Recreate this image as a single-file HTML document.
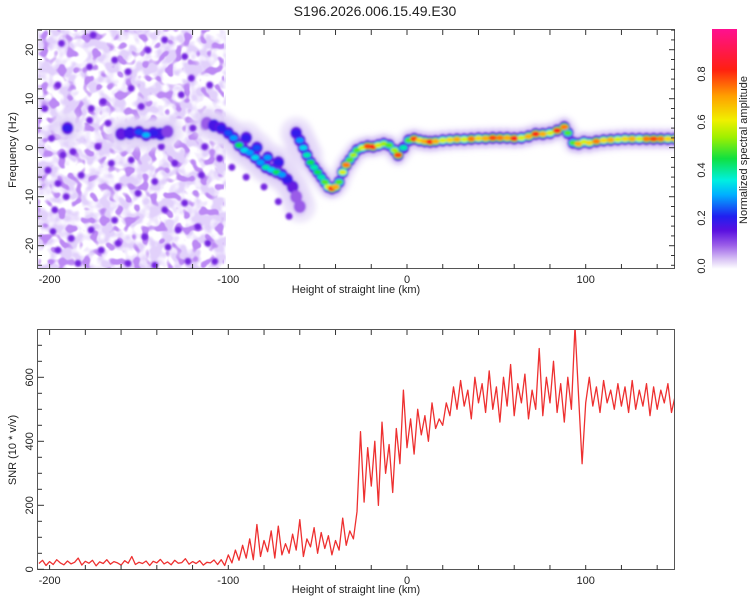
<!DOCTYPE html>
<html><head><meta charset="utf-8"><style>
html,body{margin:0;padding:0;background:#fff;}
svg{display:block;font-family:"Liberation Sans",sans-serif;}
</style></head><body>
<svg id="chart" width="750" height="600" viewBox="0 0 750 600" xmlns="http://www.w3.org/2000/svg">
<defs>
<filter id="tex" x="0" y="0" width="1" height="1">
<feTurbulence type="fractalNoise" baseFrequency="0.08" numOctaves="2" seed="7" result="n"/>
<feColorMatrix in="n" type="matrix" values="0 0 0 0 0.76  0 0 0 0 0.64  0 0 0 0 0.97  5 0 0 0 -2.0" result="c"/>
<feGaussianBlur in="c" stdDeviation="0.6"/>
</filter>
<filter id="tex2" x="0" y="0" width="1" height="1">
<feTurbulence type="fractalNoise" baseFrequency="0.12" numOctaves="1" seed="23" result="n"/>
<feColorMatrix in="n" type="matrix" values="0 0 0 0 0.5  0 0 0 0 0.25  0 0 0 0 0.9  9 0 0 0 -4.9" result="c"/>
<feGaussianBlur in="c" stdDeviation="0.6"/>
</filter>
<filter id="soft"><feGaussianBlur stdDeviation="1.1"/></filter>
<filter id="haze"><feGaussianBlur stdDeviation="3"/></filter>
<clipPath id="clipTop"><rect x="38" y="30" width="637" height="239"/></clipPath>
<clipPath id="clipBot"><rect x="38" y="330" width="637" height="240"/></clipPath>
<linearGradient id="cbar" x1="0" y1="1" x2="0" y2="0">
<stop offset="0" stop-color="#ffffff"/><stop offset="0.04" stop-color="#d9c4f5"/><stop offset="0.1" stop-color="#9a5ce8"/>
<stop offset="0.16" stop-color="#5a10e0"/><stop offset="0.22" stop-color="#2020f0"/><stop offset="0.31" stop-color="#00b0ff"/>
<stop offset="0.37" stop-color="#00f0e0"/><stop offset="0.46" stop-color="#10e040"/><stop offset="0.55" stop-color="#a0f000"/>
<stop offset="0.62" stop-color="#f0f000"/><stop offset="0.72" stop-color="#ffa000"/><stop offset="0.83" stop-color="#ff2010"/>
<stop offset="1" stop-color="#ff1090"/>
</linearGradient>
</defs>
<text x="375" y="16" font-size="14" text-anchor="middle" fill="#222">S196.2026.006.15.49.E30</text>
<g id="top">
<g clip-path="url(#clipTop)">
<rect x="38" y="30" width="188" height="240" fill="#fff" filter="url(#tex)"/>
<rect x="38" y="30" width="186" height="240" fill="#fff" filter="url(#tex2)"/>
<g id="hazeG" filter="url(#haze)"></g>
<g id="noiseDots" filter="url(#soft)"></g>
<g id="ridge" filter="url(#soft)"></g>
</g>
<rect x="37.5" y="29.5" width="637" height="239" fill="none" stroke="#555" stroke-width="1"/>
<g id="topAxes"></g>
<text x="356" y="293" font-size="11" text-anchor="middle" fill="#222">Height of straight line (km)</text>
<text transform="translate(16,150) rotate(-90)" font-size="11" text-anchor="middle" fill="#222">Frequency (Hz)</text>
</g>
<g id="cb">
<rect x="712" y="29" width="25" height="240" fill="url(#cbar)"/>
<g id="cbTicks"></g>
<text transform="translate(747,150) rotate(-90)" font-size="11" text-anchor="middle" fill="#222">Normalized spectral amplitude</text>
</g>
<g id="bot">
<g clip-path="url(#clipBot)"><path id="snrLine" fill="none" stroke="#ee3030" stroke-width="1.3" stroke-linejoin="round"/></g>
<rect x="37.5" y="329.5" width="637" height="240" fill="none" stroke="#555" stroke-width="1"/>
<g id="botAxes"></g>
<text x="356" y="593" font-size="11" text-anchor="middle" fill="#222">Height of straight line (km)</text>
<text transform="translate(16,450) rotate(-90)" font-size="11" text-anchor="middle" fill="#222">SNR (10 * v/v)</text>
</g>
</svg>
<script>
// ---- data ----
const xTicks = [-200, -100, 0, 100];
const freqTicks = [-20, -10, 0, 10, 20];
const snrTicks = [0, 200, 400, 600];
const cbTicks = [0.0, 0.2, 0.4, 0.6, 0.8];
const snrStart = -206, snrStep = 2;
const snrValues = [
18,28,12,24,15,30,20,14,26,17,22,35,13,25,19,28,11,23,18,30,16,24,20,13,27,19,40,15,22,18,26,12,25,20,31,17,23,14,28,19,21,33,16,24,18,27,13,22,20,29,15,
30,12,45,20,60,28,75,35,95,30,140,40,90,55,120,35,135,45,80,50,110,60,155,40,95,70,130,50,115,65,105,45,
90,60,160,75,120,95,
180,430,210,380,260,400,200,460,300,390,240,440,330,560,
380,470,360,500,420,480,400,520,440,470,450,
520,480,570,500,590,510,560,470,600,520,580,490,620,500,570,460,600,510,640,480,580,520,610,470,560,500,690,480,600,520,
650,490,580,460,600,500,760,540,330,520,600,510,570,490,590,520,560,500,580,510,570,490,590,500,560,510,580,480,570,500,560,520,580,490,540];
const ridgeH = [-160,-155,-150,-146,-142,-138,-134,-190,-112,-108,-104,-100,-97,-94,-91,-88,-85,-82,-79,-76,-73,-70,-67,-64,-62,-60,-90,-84,-78,-72,
-62,-60,-58,-56,-54,-52,-50,-48,-46,-44,-42,-40,-38,-36,-34,-32,-30,-28,-25,-22,-19,-16,-13,-10,-7,-5,-2,1,4,7,10,13,16,20,24,28,32,36,40,44,48,52,56,60,64,68,72,76,80,84,88,90,93,96,99,102,106,110,114,118,122,126,130,134,138,142,146,150];
const ridgeF = [2.8,3,3.2,2.6,3,2.8,3.3,4,5,4.5,4,3,2,0.5,-0.5,-1,-2,-3,-4,-4.5,-5,-5.5,-6.5,-8,-10,-12,2,0,-2,-3,
3,1.5,0,-1.5,-3,-4,-5,-6,-7,-8,-8.3,-8,-7,-5,-3.5,-2.5,-1.5,-0.5,0,0.3,0.2,0.5,0.8,0.5,-0.5,-1.5,0,1.5,1.8,1.5,1.3,1.2,1.3,1.5,1.6,1.7,1.7,1.8,1.9,1.9,2,2,2,1.9,2,2.3,2.8,2.8,3,3.5,4.2,3,1,0.8,1.2,1,1.3,1.5,1.6,1.7,1.8,1.8,1.8,1.8,1.8,1.8,1.8,1.8];
const ridgeA = [0.15,0.18,0.25,0.32,0.2,0.18,0.12,0.2,0.1,0.18,0.2,0.25,0.3,0.45,0.35,0.3,0.35,0.3,0.4,0.35,0.45,0.3,0.2,0.15,0.1,0.08,0.2,0.25,0.3,0.2,
0.2,0.3,0.35,0.4,0.45,0.4,0.45,0.4,0.5,0.6,0.85,0.7,0.5,0.6,0.75,0.5,0.55,0.5,0.6,0.8,0.85,0.6,0.55,0.5,0.55,0.8,0.4,0.5,0.8,0.65,0.7,0.85,0.7,0.6,0.65,0.7,0.6,0.75,0.65,0.7,0.8,0.75,0.7,0.85,0.6,0.7,0.85,0.7,0.6,0.85,0.75,0.5,0.5,0.7,0.6,0.65,0.75,0.65,0.7,0.6,0.65,0.7,0.6,0.75,0.8,0.75,0.65,0.7];
const dotH = [-193.4,-175.7,-135.6,-124.4,-177.6,-156.1,-120.7,-110.4,-195.3,-126.3,-170.1,-176.7,-148.7,-177.6,-167.3,-119.8,-113.2,-199,-186.9,-172.9,-137.5,-113.2,-192.5,-154.3,-104.8,-200.9,-182.3,-165.5,-130,-115.1,-195.3,-161.7,-141.2,-190.7,-150.5,-135.6,-124.4,-197.1,-163.6,-176.7,-128.1,-117,-198.1,-187.9,-161.7,-146.8,-195.3,-171.1,-133.7,-111.4,-184.1,-156.1,-141.2,-122.6,-107.6,-144.9,-163.6,-202.7,-154.3,-90,-80,-72,-98,-66];
const dotF = [21.3,23,22,18.6,16.5,15.5,14.2,12.8,12.8,10.8,9.4,8,8.4,5.6,5,4,4.3,1.9,-0.8,0.2,0.2,0.2,-1.5,-2.5,-2.2,-4.6,-5.6,-3.2,-3.2,-5.6,-7.3,-8,-6.9,-10,-9.3,-12.7,-11.3,-12.7,-14.8,-16.8,-16.8,-16.1,-17.1,-18.5,-19.5,-18.2,-20.9,-20.9,-20.3,-19.5,-23.6,-23.6,-24,-23.2,-23.2,19.9,17.9,8,12.1,-6,-8,-11,-4,-14];

// ---- scales ----
const xS = km => 407 + km * 1.787;
const yF = hz => 147.7 - hz * 4.9;
const yS = v => 569.3 - v * 0.32;
const yC = v => 266 - v * 240;
const NS = 'http://www.w3.org/2000/svg';
function mk(tag, attrs, parent) { const e = document.createElementNS(NS, tag); for (const k in attrs) e.setAttribute(k, attrs[k]); parent.appendChild(e); return e; }
const cm = [[0,[255,255,255]],[0.05,[217,196,245]],[0.1,[154,92,232]],[0.16,[90,16,224]],[0.22,[32,32,240]],[0.31,[0,176,255]],[0.37,[0,240,224]],[0.46,[16,224,64]],[0.55,[160,240,0]],[0.62,[240,240,0]],[0.72,[255,160,0]],[0.83,[255,32,16]],[1,[255,16,144]]];
function cmap(v) { for (let i = 1; i < cm.length; i++) { if (v <= cm[i][0]) { const a = cm[i-1], b = cm[i], t = (v - a[0]) / (b[0] - a[0]); return 'rgb(' + a[1].map((c, j) => Math.round(c + (b[1][j] - c) * t)).join(',') + ')'; } } return 'rgb(255,16,144)'; }

// haze around ridge
const hz = document.getElementById('hazeG');
ridgeH.forEach((h, i) => {
  const r = h < -55 ? 16 : 11;
  const e = mk('ellipse', {cx: xS(h), cy: yF(ridgeF[i]), rx: r, ry: r, fill: '#e4d8f8', opacity: 0.7}, hz);
  
  
});

// noise dots
const nd = document.getElementById('noiseDots');
dotH.forEach((h, i) => {
  const d = mk('ellipse', {cx: xS(h), cy: yF(dotF[i]), rx: 3.5, ry: 3.5, fill: '#7428e0'}, nd);
  
  
});

// ridge
const rg = document.getElementById('ridge');
const layers = [[8,10,'halo'],[6,6.5,'purple'],[5,4,'blue'],[4,2.6,'core']];
layers.forEach(([rx, ry, kind]) => {
  ridgeH.forEach((h, i) => {
    const a = ridgeA[i];
    let fill, op = 1;
    if (kind === 'halo') { fill = '#dccbf6'; op = 0.6; }
    else if (kind === 'purple') { fill = a < 0.2 ? cmap(Math.max(a, 0.1)) : '#6a18e0'; }
    else if (kind === 'blue') { if (a < 0.2) return; fill = cmap(Math.min(a, Math.max(0.22, a * 0.6))); }
    else { if (a < 0.2) return; fill = cmap(a); }
    const e = mk('ellipse', {cx: xS(h), cy: yF(ridgeF[i]), rx: rx, ry: ry, fill: fill, opacity: op}, rg);
    
    
  });
});

// axes
function xAxis(g, top, bot) {
  for (let k = -200; k <= 140; k += 20) {
    const x = xS(k);
    mk('line', {x1: x, x2: x, y1: bot, y2: bot - 5, stroke: '#333'}, g);
    mk('line', {x1: x, x2: x, y1: top, y2: top + 5, stroke: '#333'}, g);
  }
  xTicks.forEach(t => {
    const tx = mk('text', {x: xS(t), y: bot + 14, 'font-size': 11, 'text-anchor': 'middle', fill: '#222'}, g);
    tx.textContent = t;
    
    
  });
}
const ta = document.getElementById('topAxes');
xAxis(ta, 30, 269);
for (let f = -24; f <= 24; f += 2) {
  const y = yF(f), L = f % 10 === 0 ? 6 : 4;
  mk('line', {x1: 38, x2: 38 + L, y1: y, y2: y, stroke: '#333'}, ta);
  mk('line', {x1: 675, x2: 675 - L, y1: y, y2: y, stroke: '#333'}, ta);
}
freqTicks.forEach(t => {
  const tx = mk('text', {transform: 'translate(33,' + yF(t) + ') rotate(-90)', 'font-size': 11, 'text-anchor': 'middle', fill: '#222'}, ta);
  tx.textContent = t;
  
  
});
const ba = document.getElementById('botAxes');
xAxis(ba, 330, 570);
for (let v = 0; v <= 740; v += 50) {
  const y = yS(v), L = v % 200 === 0 ? 6 : 4;
  mk('line', {x1: 38, x2: 38 + L, y1: y, y2: y, stroke: '#333'}, ba);
}
snrTicks.forEach(t => {
  const tx = mk('text', {transform: 'translate(33,' + yS(t) + ') rotate(-90)', 'font-size': 11, 'text-anchor': 'middle', fill: '#222'}, ba);
  tx.textContent = t;
  
  
});
const cg = document.getElementById('cbTicks');
cbTicks.forEach(t => {
  const tx = mk('text', {transform: 'translate(705,' + yC(t) + ') rotate(-90)', 'font-size': 11, 'text-anchor': 'middle', fill: '#222'}, cg);
  tx.textContent = t.toFixed(1);
  
  
});

// snr line
let d = '';
snrValues.forEach((v, i) => { d += (i ? 'L' : 'M') + xS(snrStart + i * snrStep).toFixed(1) + ',' + yS(v).toFixed(1); });
document.getElementById('snrLine').setAttribute('d', d);
</script>
</body></html>
